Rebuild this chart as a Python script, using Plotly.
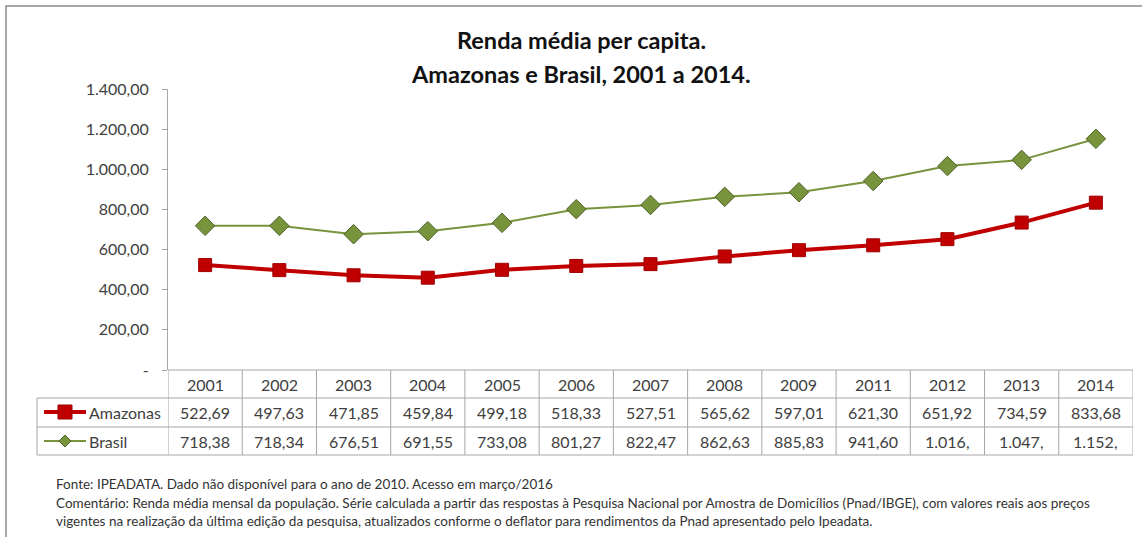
import plotly.graph_objects as go

years = ["2001", "2002", "2003", "2004", "2005", "2006", "2007", "2008", "2009", "2011", "2012", "2013", "2014"]
amazonas = [522.69, 497.63, 471.85, 459.84, 499.18, 518.33, 527.51, 565.62, 597.01, 621.30, 651.92, 734.59, 833.68]
brasil = [718.38, 718.34, 676.51, 691.55, 733.08, 801.27, 822.47, 862.63, 885.83, 941.60, 1016.0, 1047.0, 1152.0]
amazonas_txt = ["522,69", "497,63", "471,85", "459,84", "499,18", "518,33", "527,51", "565,62", "597,01", "621,30", "651,92", "734,59", "833,68"]
brasil_txt = ["718,38", "718,34", "676,51", "691,55", "733,08", "801,27", "822,47", "862,63", "885,83", "941,60", "1.016,", "1.047,", "1.152,"]
ytick_vals = [0, 200, 400, 600, 800, 1000, 1200, 1400]
ytick_text = ["-", "200,00", "400,00", "600,00", "800,00", "1.000,00", "1.200,00", "1.400,00"]

W, H = 1142, 537
L, R, T, B = 168, 1133, 89, 370

def px_x(px):
    return (px - L) / (R - L)

def px_y(py):
    return (B - py) / (B - T)

RED = "#C00000"
GREEN = "#77933C"
GREEN_D = "#4F6228"
GRID = "#A6A6A6"
TXT = "#404040"
FONT = "Lato"

fig = go.Figure()
fig.add_trace(go.Scatter(
    x=list(range(len(years))), y=amazonas, mode="lines+markers", name="Amazonas",
    line=dict(color=RED, width=4),
    marker=dict(symbol="square", size=13, color=RED, line=dict(color="#A00000", width=1)),
    cliponaxis=False,
))
fig.add_trace(go.Scatter(
    x=list(range(len(years))), y=brasil, mode="lines+markers", name="Brasil",
    line=dict(color=GREEN, width=2),
    marker=dict(symbol="diamond", size=15, color=GREEN, line=dict(color=GREEN_D, width=1)),
    cliponaxis=False,
))

shapes = []
annotations = []

# outer frame
shapes.append(dict(type="rect", xref="paper", yref="paper",
                   x0=px_x(6), x1=px_x(1160), y0=px_y(560), y1=px_y(6),
                   line=dict(color="#8C8C8C", width=1.5), layer="below"))

# table rows
row_y = [370, 398, 427, 455]
for i, py in enumerate(row_y):
    x0 = L if i == 0 else 37
    shapes.append(dict(type="line", xref="paper", yref="paper",
                       x0=px_x(x0), x1=px_x(R), y0=px_y(py), y1=px_y(py),
                       line=dict(color=GRID, width=1)))
# column separators via the category axis
for i in range(len(years) + 1):
    shapes.append(dict(type="line", xref="x", yref="paper",
                       x0=i - 0.5, x1=i - 0.5, y0=px_y(370), y1=px_y(455),
                       line=dict(color=GRID, width=1)))
shapes.append(dict(type="line", xref="paper", yref="paper",
                   x0=px_x(37), x1=px_x(37), y0=px_y(398), y1=px_y(455),
                   line=dict(color=GRID, width=1)))

# legend keys in row label cells
shapes.append(dict(type="line", xref="paper", yref="paper",
                   x0=px_x(44), x1=px_x(86), y0=px_y(412), y1=px_y(412),
                   line=dict(color=RED, width=4)))
shapes.append(dict(type="rect", xref="paper", yref="paper",
                   x0=px_x(58), x1=px_x(72), y0=px_y(419), y1=px_y(405),
                   fillcolor=RED, line=dict(color="#A00000", width=1)))
shapes.append(dict(type="line", xref="paper", yref="paper",
                   x0=px_x(44), x1=px_x(86), y0=px_y(441), y1=px_y(441),
                   line=dict(color=GREEN, width=2)))
cx, cy = 65, 441
shapes.append(dict(type="path", xref="paper", yref="paper",
                   path=f"M {px_x(cx-6)} {px_y(cy)} L {px_x(cx)} {px_y(cy-6)} L {px_x(cx+6)} {px_y(cy)} L {px_x(cx)} {px_y(cy+6)} Z",
                   fillcolor=GREEN, line=dict(color=GREEN_D, width=1)))

annotations.append(dict(xref="paper", yref="paper", x=px_x(87), y=px_y(412), text="Amazonas",
                        showarrow=False, xanchor="left", yanchor="middle",
                        font=dict(family=FONT, size=16, color=TXT)))
annotations.append(dict(xref="paper", yref="paper", x=px_x(87), y=px_y(441), text="Brasil",
                        showarrow=False, xanchor="left", yanchor="middle",
                        font=dict(family=FONT, size=16, color=TXT)))

for i, yr in enumerate(years):
    annotations.append(dict(xref="x", yref="paper", x=i, y=px_y(384), text=yr, showarrow=False,
                            xanchor="center", yanchor="middle", font=dict(family=FONT, size=16, color=TXT)))
    annotations.append(dict(xref="x", yref="paper", x=i, y=px_y(412), text=amazonas_txt[i], showarrow=False,
                            xanchor="center", yanchor="middle", font=dict(family=FONT, size=16, color=TXT)))
    annotations.append(dict(xref="x", yref="paper", x=i, y=px_y(441), text=brasil_txt[i], showarrow=False,
                            xanchor="center", yanchor="middle", font=dict(family=FONT, size=16, color=TXT)))

# title
annotations.append(dict(xref="paper", yref="paper", x=px_x(581), y=px_y(40),
                        text="<b>Renda média per capita.</b>", showarrow=False,
                        xanchor="center", yanchor="middle", font=dict(family=FONT, size=23.5, color="#111111")))
annotations.append(dict(xref="paper", yref="paper", x=px_x(581), y=px_y(74),
                        text="<b>Amazonas e Brasil, 2001 a 2014.</b>", showarrow=False,
                        xanchor="center", yanchor="middle", font=dict(family=FONT, size=23.5, color="#111111")))

# footer
footer = [
    "Fonte: IPEADATA. Dado não disponível para o ano de 2010. Acesso em março/2016",
    "Comentário: Renda média mensal da população. Série calculada a partir das respostas à Pesquisa Nacional por Amostra de Domicílios (Pnad/IBGE), com valores reais aos preços",
    "vigentes na realização da última edição da pesquisa, atualizados conforme o deflator para rendimentos da Pnad apresentado pelo Ipeadata.",
]
for txt, py in zip(footer, [484, 503, 521]):
    annotations.append(dict(xref="paper", yref="paper", x=px_x(54), y=px_y(py), text=txt, showarrow=False,
                            xanchor="left", yanchor="middle", font=dict(family=FONT, size=13.5, color="#333333")))

fig.update_layout(
    width=W, height=H,
    margin=dict(l=L, r=W - R, t=T, b=H - B, pad=0),
    paper_bgcolor="white", plot_bgcolor="white",
    showlegend=False,
    shapes=shapes, annotations=annotations,
    xaxis=dict(range=[-0.5, len(years) - 0.5], showticklabels=False, showgrid=False, zeroline=False,
               showline=False, ticks=""),
    yaxis=dict(range=[0, 1400], tickvals=ytick_vals, ticktext=ytick_text, showgrid=False, zeroline=False,
               showline=True, linecolor=GRID, linewidth=1, ticks="outside", ticklen=5, tickcolor=GRID,
               tickfont=dict(family=FONT, size=16, color=TXT), ticklabelstandoff=10),
)

fig.write_html("out.html", config={"displayModeBar": False},
               post_script="document.body.style.margin='0';document.body.style.overflow='hidden';")
